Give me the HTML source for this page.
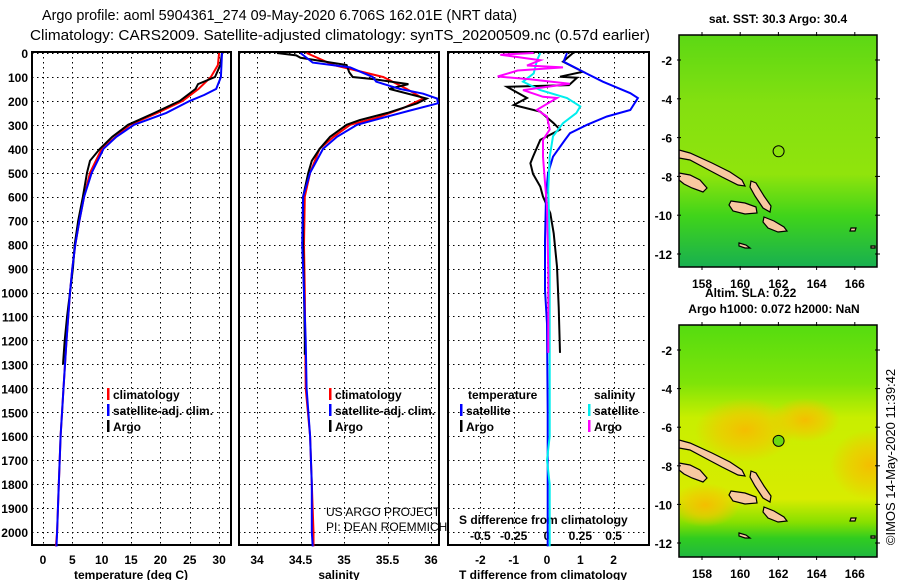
<!DOCTYPE html>
<html><head><meta charset="utf-8"><style>
html,body{margin:0;padding:0;background:#fff;}
svg{display:block;font-family:"Liberation Sans",sans-serif;}
.t{font-size:12px;font-weight:bold;fill:#000;}
</style></head><body>
<svg id="c" width="900" height="580" viewBox="0 0 900 580" xmlns="http://www.w3.org/2000/svg">
<defs>
<linearGradient id="g1" x1="0" y1="0" x2="0" y2="1">
<stop offset="0" stop-color="#5cd814"/><stop offset="0.3" stop-color="#84e010"/><stop offset="0.6" stop-color="#90e40c"/><stop offset="0.78" stop-color="#40d41a"/><stop offset="1" stop-color="#18b050"/></linearGradient>
<linearGradient id="g2" x1="0" y1="0" x2="0" y2="1">
<stop offset="0" stop-color="#55dc10"/><stop offset="0.25" stop-color="#7ee408"/><stop offset="0.4" stop-color="#c8ee00"/><stop offset="0.75" stop-color="#d8ec00"/><stop offset="0.85" stop-color="#88e000"/><stop offset="0.92" stop-color="#30cc20"/><stop offset="1" stop-color="#20b840"/></linearGradient>
<radialGradient id="o1"><stop offset="0" stop-color="#f4be00"/><stop offset="0.5" stop-color="#f0c800" stop-opacity="0.7"/><stop offset="1" stop-color="#f2c400" stop-opacity="0"/></radialGradient>
<clipPath id="cm1"><rect x="679" y="35" width="198" height="232"/></clipPath>
<clipPath id="cm2"><rect x="679" y="325" width="198" height="232"/></clipPath>
</defs>
<text x="42" y="20" font-size="15" textLength="475" lengthAdjust="spacingAndGlyphs">Argo profile: aoml 5904361_274 09-May-2020 6.706S 162.01E (NRT data)</text>
<text x="30" y="40" font-size="15" textLength="620" lengthAdjust="spacingAndGlyphs">Climatology: CARS2009. Satellite-adjusted climatology: synTS_20200509.nc (0.57d earlier)</text>
<g id="panels"></g>
<g id="maps"></g>
</svg>
<script>
// ---- data ----
const tDepth = [0,50,100,130,150,200,250,300,350,400,450,500,600,700,800,900,1000,1100,1200,1300];
const tArgo = [30.5,30.2,29.3,26.4,26.0,23.3,19.0,14.5,11.8,9.7,8.0,7.5,6.8,6.0,5.4,5.1,4.6,4.1,3.7,3.4];
const climDepth = [0,50,100,150,200,250,300,400,500,600,700,800,900,1000,1200,1400,1600,1800,2000,2060];
const tClim = [30.0,29.8,28.6,26.5,23.8,19.5,14.8,10.0,8.0,7.0,6.2,5.5,5.0,4.6,4.0,3.5,3.0,2.7,2.4,2.2];
const satDepth = [0,100,150,175,200,250,300,350,400,500,600,700,800,900,1000,1200,1400,1600,1800,2000,2060];
const tSat = [30.5,30.3,29.5,27.5,25.0,21.0,15.5,12.5,10.3,8.3,7.0,6.2,5.5,5.0,4.6,4.0,3.5,3.0,2.7,2.4,2.3];

const sArgoDepth = [0,10,20,50,80,100,110,130,150,190,210,250,280,300,350,400,450,500,600,800,1000,1200,1260];
const sArgo = [34.23,34.45,34.5,35.03,35.06,35.1,35.35,35.74,35.52,35.95,35.84,35.5,35.18,35.03,34.84,34.72,34.63,34.59,34.53,34.53,34.54,34.55,34.55];
const sClimDepth = [0,50,100,150,190,230,270,300,350,400,500,600,800,1000,1400,1600,1800,2000,2060];
const sClim = [34.57,34.88,35.45,35.72,35.91,35.68,35.38,35.07,34.88,34.72,34.61,34.55,34.54,34.55,34.56,34.61,34.63,34.65,34.65];
const sSatDepth = [0,40,60,100,120,150,170,190,210,240,270,300,350,400,500,600,800,1000,1200,1400,1600,1800,2000,2060];
const sSat = [34.5,34.64,35.07,35.33,35.37,35.64,35.91,36.07,36.08,35.76,35.45,35.15,34.92,34.76,34.61,34.53,34.52,34.54,34.56,34.57,34.61,34.63,34.63,34.64];

const dTArgoDepth = [0,36,78,99,103,134,141,188,217,245,293,320,363,433,460,505,558,600,669,753,892,1060,1252];
const dTArgo = [0.78,0.48,1.08,0.39,0.9,0.66,-1.2,-0.6,-1.0,-0.2,0.2,0.39,-0.2,-0.42,-0.5,-0.42,-0.2,-0.12,0.1,0.2,0.3,0.35,0.39];
const dTSatDepth = [0,36,78,120,168,188,238,265,300,335,363,433,503,600,780,990,1130,1500,2060];
const dTSat = [0.6,0.5,1.08,1.68,2.5,2.73,2.5,1.8,1.2,0.69,0.54,0.18,0.03,-0.03,-0.06,-0.06,0.0,0.02,0.02];
const dSSatDepth = [0,30,85,120,155,188,223,251,293,348,433,570,800,1200,1600,1700,1800,2060];
const dSSat = [-0.05,-0.075,-0.1,-0.18,-0.05,0.15,0.25,0.22,0.12,0.045,0.02,0.01,0.02,0.02,0.02,0.0,0.02,0.02];
const dSArgoDepth = [0,7,30,52,60,73,98,110,128,155,183,188,237,265,320,363,433,540,640,920,1252];
const dSArgo = [-0.1,-0.35,-0.05,-0.15,0.12,-0.22,-0.37,-0.13,0.17,-0.18,-0.03,0.075,-0.075,0.0,0.02,-0.03,-0.03,-0.015,0.0,0.01,0.01];

const depthTicks = [0,100,200,300,400,500,600,700,800,900,1000,1100,1200,1300,1400,1500,1600,1700,1800,1900,2000];
const tTicks = [0,5,10,15,20,25,30];
const sTicks = [34,34.5,35,35.5,36];
const dTTicks = [-2,-1,0,1,2];
const dSTicks = [-0.5,-0.25,0,0.25,0.5];
const latTicks = [-2,-4,-6,-8,-10,-12];
const lonTicks = [158,160,162,164,166];
const argoLon = 162.01, argoLat = -6.706;

// ---- axes ----
const NS='http://www.w3.org/2000/svg';
const yD = d => 53 + d*0.2395;
const xT = t => 43 + t*5.87;
const xS = s => 257 + (s-34)*87;
const xDT = v => 547 + v*33.3;
const xDS = v => 547 + v*133.3;
const mx = lon => 702 + (lon-158)*19.1;
const my1 = lat => 60 + (-2-lat)*19.4;
const my2 = lat => 350 + (-2-lat)*19.3;

function el(tag, attrs, parent, txt){
  const e=document.createElementNS(NS,tag);
  for(const k in attrs) e.setAttribute(k,attrs[k]);
  if(txt!==undefined) e.textContent=txt;
  parent.appendChild(e); return e;
}
const P=document.getElementById('panels');
const panels=[{x0:32,x1:231,name:'temperature-panel'},{x0:239,x1:439,name:'salinity-panel'},{x0:448,x1:649,name:'difference-panel'}];
const dotStyle={stroke:'#000','stroke-width':1.3,'stroke-dasharray':'1.5,3.5','shape-rendering':'crispEdges'};
panels.forEach(p=>{
  const g=el('g',{},P);
  
  
  depthTicks.forEach(d=>{
    const y=Math.round(yD(d))+0.5;
    const l=el('line',Object.assign({x1:p.x0,x2:p.x1,y1:y,y2:y},dotStyle),g);
    
    
  });
  const r=el('rect',{x:p.x0,y:52,width:p.x1-p.x0,height:493,fill:'none',stroke:'#000','stroke-width':2},g);
  
  
});
function vgrid(vals,fx){
  vals.forEach(v=>{
    const x=Math.round(fx(v))+0.5;
    const l=el('line',Object.assign({x1:x,x2:x,y1:52,y2:545},dotStyle),P);
    
    
  });
}
vgrid(tTicks,xT); vgrid(sTicks,xS); vgrid(dTTicks,xDT);
depthTicks.forEach(d=>{
  const t=el('text',{x:28,y:yD(d)+5,'text-anchor':'end',class:'t'},P,String(d));
  
  
});
function xlabels(vals,fx,y,fmt){
  vals.forEach(v=>{
    const t=el('text',{x:fx(v),y:y,'text-anchor':'middle',class:'t'},P,fmt?fmt(v):String(v));
    
    
  });
}
xlabels(tTicks,xT,564); xlabels(sTicks,xS,564); xlabels(dTTicks,xDT,564);
xlabels(dSTicks,xDS,540);
[['temperature (deg C)',131,'temperature-axis-title'],['salinity',339,'salinity-axis-title'],['T difference from climatology',543,'t-difference-axis-title']].forEach(a=>{
  const t=el('text',{x:a[1],y:579,'text-anchor':'middle',class:'t'},P,a[0]);
  
  
});
const st=el('text',{x:459,y:524,class:'t'},P,'S difference from climatology');



function line(dep,val,fx,color,name,w){
  const pts=dep.map((d,i)=>fx(val[i]).toFixed(1)+','+yD(d).toFixed(1)).join(' ');
  const l=el('polyline',{points:pts,fill:'none',stroke:color,'stroke-width':w||2},P);
  
  
}
line(climDepth,tClim,xT,'#f00','temperature-climatology-line');
line(tDepth,tArgo,xT,'#000','temperature-argo-line');
line(satDepth,tSat,xT,'#00f','temperature-satellite-line');
line(sClimDepth,sClim,xS,'#f00','salinity-climatology-line');
line(sArgoDepth,sArgo,xS,'#000','salinity-argo-line');
line(sSatDepth,sSat,xS,'#00f','salinity-satellite-line');
line(dTArgoDepth,dTArgo,xDT,'#000','dt-argo-line');
line(dTSatDepth,dTSat,xDT,'#00f','dt-satellite-line');
line(dSSatDepth,dSSat,xDS,'#0ee','ds-satellite-line');
line(dSArgoDepth,dSArgo,xDS,'#f0f','ds-argo-line');

function legend(x,y,color,label){
  const g=el('g',{},P);
  
  
  el('rect',{x:x,y:y-11,width:2.5,height:12,fill:color},g);
  el('text',{x:x+6,y:y,class:'t'},g,label);
}
legend(107,399,'#f00','climatology');legend(107,415,'#00f','satellite-adj. clim.');legend(107,431,'#000','Argo');
legend(329,399,'#f00','climatology');legend(329,415,'#00f','satellite-adj. clim.');legend(329,431,'#000','Argo');
legend(460,415,'#00f','satellite');legend(460,431,'#000','Argo');
legend(588,415,'#0ee','satellite');legend(588,431,'#f0f','Argo');
[['temperature',468],['salinity',594]].forEach(a=>{
  const t=el('text',{x:a[1],y:399,class:'t'},P,a[0]);
  
  
});
[['US ARGO PROJECT',516],['PI: DEAN ROEMMICH',531]].forEach(a=>{
  const t=el('text',{x:326,y:a[1],'font-size':'12'},P,a[0]);
  
  
});

// ---- maps ----
const M=document.getElementById('maps');
const islands=[
 [[679,150],[690,153],[712,163],[730,172],[742,180],[745,186],[738,185],[722,177],[705,168],[690,160],[679,158]],
 [[679,173],[690,175],[700,180],[707,188],[703,192],[692,188],[684,184],[679,180]],
 [[751,181],[756,183],[764,196],[771,206],[770,212],[763,208],[755,196],[750,187]],
 [[731,201],[745,203],[756,207],[757,213],[745,214],[733,211],[729,205]],
 [[764,217],[774,221],[784,227],[787,231],[778,232],[768,228],[763,222]],
 [[739,243],[746,245],[750,248],[745,248],[739,246]],
 [[851,228],[856,228],[855,231],[850,231]],
 [[871,246],[875,246],[875,248],[871,248]]
];
function mapFrame(y0,grad,clipId,ly,name,extra){
  const g=el('g',{},M);
  
  
  const cg=el('g',{'clip-path':'url(#'+clipId+')'},g);
  el('rect',{x:679,y:y0,width:198,height:232,fill:'url(#'+grad+')'},cg);
  if(extra) extra(cg);
  const ig=el('g',{transform:'translate(0,'+(y0-35)+')'},cg);
  islands.forEach(pl=>{
    const p=el('polygon',{points:pl.map(q=>q.join(',')).join(' '),fill:'#f8c8a0',stroke:'#000','stroke-width':1.2},ig);
    
    
  });
  el('rect',{x:679,y:y0,width:198,height:232,fill:'none',stroke:'#000','stroke-width':1.5},g);
  latTicks.forEach(l=>{
    el('line',{x1:677,x2:681,y1:ly(l),y2:ly(l),stroke:'#000'},g);
    el('line',{x1:875,x2:880,y1:ly(l),y2:ly(l),stroke:'#000'},g);
    const t=el('text',{x:672,y:ly(l)+5,'text-anchor':'end',class:'t'},g,String(l));
    
    
  });
  lonTicks.forEach(l=>{
    el('line',{x1:mx(l),x2:mx(l),y1:y0-3,y2:y0+1,stroke:'#000'},g);
    el('line',{x1:mx(l),x2:mx(l),y1:y0+231,y2:y0+235,stroke:'#000'},g);
    const t=el('text',{x:mx(l),y:y0+253,'text-anchor':'middle',class:'t'},g,String(l));
    
    
  });
  return g;
}
const g1=mapFrame(35,'g1','cm1',my1,'sst-map');
const c1=el('circle',{cx:mx(argoLon),cy:my1(argoLat),r:5.5,fill:'none',stroke:'#000','stroke-width':1},g1);


const g2=mapFrame(325,'g2','cm2',my2,'sla-map',cg=>{
  el('ellipse',{cx:745,cy:430,rx:50,ry:32,fill:'url(#o1)'},cg);
  el('ellipse',{cx:870,cy:465,rx:40,ry:35,fill:'url(#o1)'},cg);
  el('ellipse',{cx:705,cy:505,rx:35,ry:22,fill:'url(#o1)'},cg);
  el('ellipse',{cx:805,cy:420,rx:35,ry:22,fill:'url(#o1)'},cg);
});
const c2=el('circle',{cx:mx(argoLon),cy:my2(argoLat),r:5.5,fill:'#6cd810',stroke:'#000','stroke-width':1},g2);


[['sat. SST: 30.3 Argo: 30.4',778,23,'sst-map-title'],['Argo h1000: 0.072 h2000: NaN',774,313,'altimetry-map-title']].forEach(a=>{
  const t=el('text',{x:a[1],y:a[2],'text-anchor':'middle',class:'t'},M,a[0]);
  
  
});
const sla=el('text',{x:705,y:297,class:'t'},M,'Altim. SLA: 0.22');


const cr=el('text',{x:0,y:0,'font-size':'13',transform:'translate(895,457) rotate(-90)','text-anchor':'middle'},M,'©IMOS 14-May-2020 11:39:42');


</script>
</body></html>
